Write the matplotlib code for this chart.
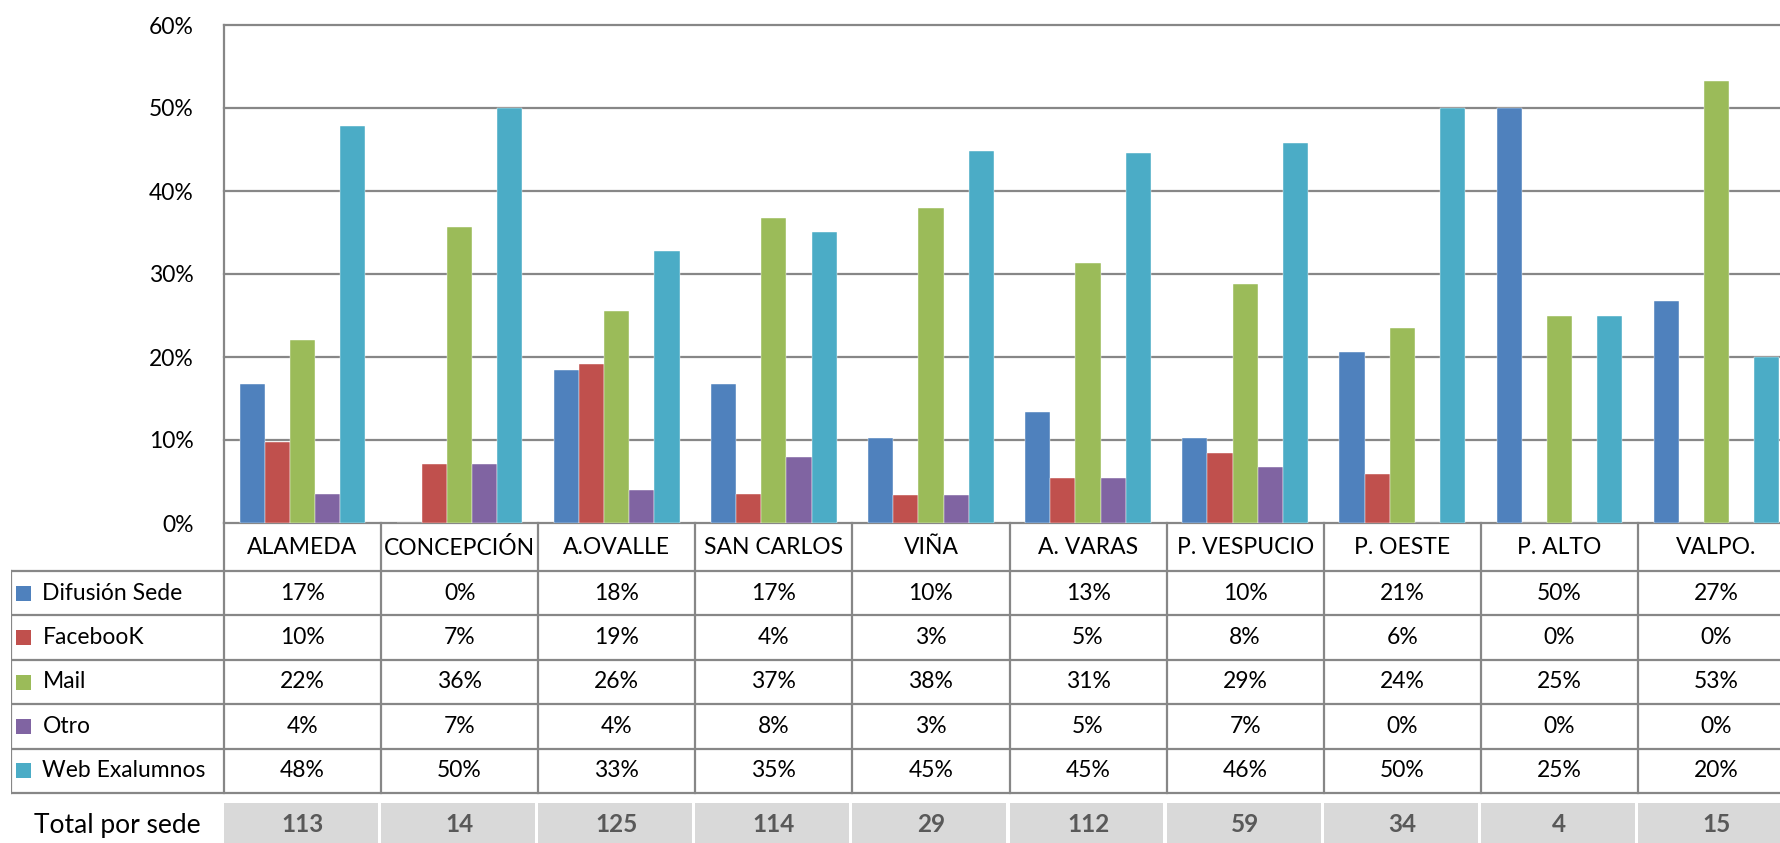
import matplotlib.pyplot as plt
from matplotlib.patches import Rectangle

plt.rcParams['font.family'] = ['Lato', 'DejaVu Sans']

# sedes and their shares (percent) per channel
sedes = ["ALAMEDA", "CONCEPCIÓN", "A.OVALLE", "SAN CARLOS", "VIÑA",
         "A. VARAS", "P. VESPUCIO", "P. OESTE", "P. ALTO", "VALPO."]
series_names = ["Difusión Sede", "FacebooK", "Mail", "Otro", "Web Exalumnos"]
difusion = [16.8, 0.0, 18.4, 16.7, 10.3, 13.4, 10.2, 20.6, 50.0, 26.7]
facebook = [9.7, 7.1, 19.2, 3.5, 3.4, 5.4, 8.4, 5.9, 0.0, 0.0]
mail = [22.1, 35.7, 25.6, 36.8, 37.9, 31.3, 28.8, 23.5, 25.0, 53.3]
otro = [3.5, 7.1, 4.0, 7.9, 3.4, 5.4, 6.8, 0.0, 0.0, 0.0]
web = [47.8, 50.0, 32.8, 35.1, 44.8, 44.6, 45.8, 50.0, 25.0, 20.0]
totales = [113, 14, 125, 114, 29, 112, 59, 34, 4, 15]

series = [difusion, facebook, mail, otro, web]
colors = ["#4F81BD", "#C0504D", "#9BBB59", "#8064A2", "#4BACC6"]
grid_col = "#878787"
fs = 16.5

W, H = 1780, 843
fig = plt.figure(figsize=(W / 100, H / 100), dpi=100)


def px_box(l, t, r, b):
    return [l / W, 1 - b / H, (r - l) / W, (b - t) / H]


cat_w = 157.1
left, top, bottom = 224, 25, 523
right = left + cat_w * len(sedes)

# ---- bar chart ----
ax = fig.add_axes(px_box(left, top, right, bottom))
n = len(sedes)
bw = 0.16
for i, (vals, col) in enumerate(zip(series, colors)):
    xs = [k + (i - 2) * bw for k in range(n)]
    ax.bar(xs, [v / 100 for v in vals], width=bw, color=col, zorder=3,
           edgecolor="white", linewidth=0.3)

ax.set_xlim(-0.5, n - 0.5)
ax.set_ylim(0, 0.6)
ax.set_yticks([0, 0.1, 0.2, 0.3, 0.4, 0.5, 0.6])
ax.set_yticklabels(["0%", "10%", "20%", "30%", "40%", "50%", "60%"])
ax.tick_params(axis="y", length=0, pad=22, labelsize=fs)
ax.set_xticks([])
for y in [0.1, 0.2, 0.3, 0.4, 0.5, 0.6]:
    ax.axhline(y, color=grid_col, lw=1.6, zorder=1, clip_on=False)
for s in ["top", "right"]:
    ax.spines[s].set_visible(False)
ax.spines["left"].set_color(grid_col)
ax.spines["left"].set_linewidth(1.6)
ax.spines["bottom"].set_color(grid_col)
ax.spines["bottom"].set_linewidth(1.6)

# ---- data table ----
lab_w = (left - 11) / cat_w
tb = fig.add_axes(px_box(11, bottom, right, H))
tb.set_xlim(-0.5 - lab_w, n - 0.5)
tb.set_ylim(H - bottom, 0)
tb.axis("off")

head_h = 48
row_h = 44.4
rows_end = head_h + row_h * len(series)

# header (category names)
for k, name in enumerate(sedes):
    tb.text(k, head_h / 2 + 1, name, ha="center", va="center", fontsize=fs)

# borders
for k in range(n + 1):
    tb.plot([k - 0.5, k - 0.5], [0, rows_end], color=grid_col, lw=1.6,
            clip_on=False)
tb.plot([-0.5 - lab_w, -0.5 - lab_w], [head_h, rows_end], color=grid_col, lw=1.6)
for r in range(len(series) + 1):
    y = head_h + r * row_h
    tb.plot([-0.5 - lab_w, n - 0.5], [y, y], color=grid_col, lw=1.6)

# rows with legend keys
for r, (name, vals, col) in enumerate(zip(series_names, series, colors)):
    yc = head_h + (r + 0.5) * row_h
    tb.add_patch(Rectangle((-0.5 - lab_w + 0.035, yc - 7.5), 0.095, 15,
                           color=col, lw=0))
    tb.text(-0.5 - lab_w + 0.2, yc, name, ha="left", va="center", fontsize=fs)
    for k, v in enumerate(vals):
        tb.text(k, yc, f"{int(v + 0.5)}%", ha="center", va="center",
                fontsize=fs)

# total row
tot_top = rows_end + 10
tb.text(-0.5 - lab_w / 2, tot_top + 22, "Total por sede", ha="center",
        va="center", fontsize=19)
for k, t in enumerate(totales):
    tb.add_patch(Rectangle((k - 0.5, tot_top), 0.98, 44, color="#D9D9D9",
                           lw=0, clip_on=False))
    tb.text(k, tot_top + 22, str(t), ha="center", va="center", fontsize=17.5,
            fontweight="bold", color="#595959")

fig.savefig("out.png", dpi=100)
